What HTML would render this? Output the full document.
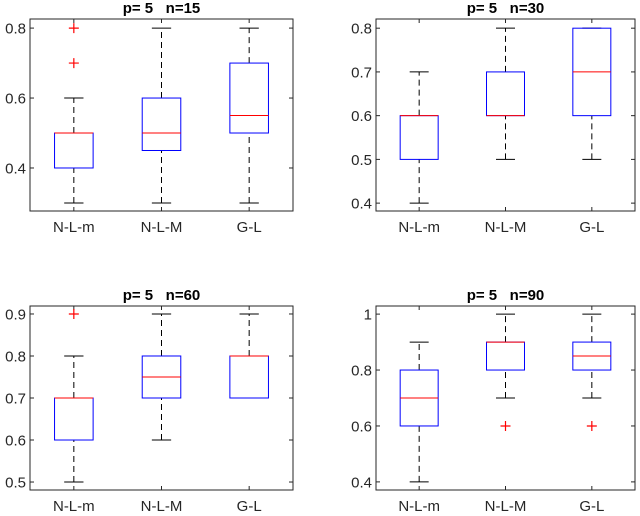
<!DOCTYPE html>
<html><head><meta charset="utf-8"><style>
body{margin:0;background:#fff}
svg{display:block;font-family:"Liberation Sans",Arial,sans-serif}
.ttl{white-space:pre}
</style></head><body>
<svg id="fig" width="640" height="516" viewBox="0 0 640 516"></svg>
<script>
const categories=["N-L-m","N-L-M","G-L"];
const titles=["p= 5   n=15","p= 5   n=30","p= 5   n=60","p= 5   n=90"];
// per panel, per category: [whiskerLow, q1, median, q3, whiskerHigh]
const stats15=[[0.3,0.4,0.5,0.5,0.6],[0.3,0.45,0.5,0.6,0.8],[0.3,0.5,0.55,0.7,0.8]];
const stats30=[[0.4,0.5,0.6,0.6,0.7],[0.5,0.6,0.6,0.7,0.8],[0.5,0.6,0.7,0.8,0.8]];
const stats60=[[0.5,0.6,0.7,0.7,0.8],[0.6,0.7,0.75,0.8,0.9],[0.7,0.7,0.8,0.8,0.9]];
const stats90=[[0.4,0.6,0.7,0.8,0.9],[0.7,0.8,0.9,0.9,1.0],[0.7,0.8,0.85,0.9,1.0]];
const outliers15=[[0.7,0.8],[],[]];
const outliers30=[[],[],[]];
const outliers60=[[0.9],[],[]];
const outliers90=[[],[0.6],[0.6]];
const ticks15=[0.4,0.6,0.8];
const ticks30=[0.4,0.5,0.6,0.7,0.8];
const ticks60=[0.5,0.6,0.7,0.8,0.9];
const ticks90=[0.4,0.6,0.8,1];
const tickLabels15=["0.4","0.6","0.8"];
const tickLabels30=["0.4","0.5","0.6","0.7","0.8"];
const tickLabels60=["0.5","0.6","0.7","0.8","0.9"];
const tickLabels90=["0.4","0.6","0.8","1"];

const panels=[
 {x0:30,x1:293,y0:19,y1:211,lo:0.277,hi:0.826,stats:stats15,out:outliers15,ticks:ticks15,tl:tickLabels15,title:titles[0]},
 {x0:376,x1:635,y0:19,y1:211,lo:0.382,hi:0.821,stats:stats30,out:outliers30,ticks:ticks30,tl:tickLabels30,title:titles[1]},
 {x0:30,x1:293,y0:306,y1:490,lo:0.481,hi:0.919,stats:stats60,out:outliers60,ticks:ticks60,tl:tickLabels60,title:titles[2]},
 {x0:376,x1:635,y0:306,y1:490,lo:0.371,hi:1.029,stats:stats90,out:outliers90,ticks:ticks90,tl:tickLabels90,title:titles[3]}
];
const NS="http://www.w3.org/2000/svg";
const svg=document.getElementById('fig');
function mk(tag,attrs,parent,text){const e=document.createElementNS(NS,tag);for(const k in attrs)e.setAttribute(k,attrs[k]);if(text!==undefined)e.textContent=text;parent.appendChild(e);return e;}
panels.forEach((p,pi)=>{
 const g=mk('g',{},svg);
 
 
 const ys=v=>p.y1-(v-p.lo)/(p.hi-p.lo)*(p.y1-p.y0);
 const xs=i=>p.x0+(i+0.5)*(p.x1-p.x0)/3;
 const hw=(p.x1-p.x0)/3*0.22;
 const frame=mk('rect',{x:p.x0,y:p.y0,width:p.x1-p.x0,height:p.y1-p.y0,fill:'none',stroke:'#262626','stroke-width':1},g);
 
 
 const t=mk('text',{class:'ttl',x:(p.x0+p.x1)/2,y:p.y0-6,'text-anchor':'middle','font-size':15,'font-weight':'bold',fill:'#000'},g,p.title);
 
 
 p.ticks.forEach((v,i)=>{
  const y=ys(v);
  mk('line',{x1:p.x0,x2:p.x0+4,y1:y,y2:y,stroke:'#262626'},g);
  mk('line',{x1:p.x1,x2:p.x1-4,y1:y,y2:y,stroke:'#262626'},g);
  const tl=mk('text',{x:p.x0-4,y:y+5.5,'text-anchor':'end','font-size':15,fill:'#262626'},g,p.tl[i]);
  
  
 });
 categories.forEach((c,i)=>{
  const x=xs(i);const s=p.stats[i];
  mk('line',{x1:x,x2:x,y1:p.y1,y2:p.y1-4,stroke:'#262626'},g);
  mk('line',{x1:x,x2:x,y1:p.y0,y2:p.y0+4,stroke:'#262626'},g);
  const xl=mk('text',{x:x,y:p.y1+21,'text-anchor':'middle','font-size':15,fill:'#262626'},g,c);
  
  
  const bg=mk('g',{},g);
  
  
  mk('line',{x1:x,x2:x,y1:ys(s[0]),y2:ys(s[1]),stroke:'#000','stroke-dasharray':'6,4'},bg);
  mk('line',{x1:x,x2:x,y1:ys(s[3]),y2:ys(s[4]),stroke:'#000','stroke-dasharray':'6,4'},bg);
  mk('line',{x1:x-hw/2,x2:x+hw/2,y1:ys(s[0]),y2:ys(s[0]),stroke:'#000'},bg);
  mk('line',{x1:x-hw/2,x2:x+hw/2,y1:ys(s[4]),y2:ys(s[4]),stroke:'#000'},bg);
  mk('rect',{x:x-hw,y:ys(s[3]),width:2*hw,height:ys(s[1])-ys(s[3]),fill:'none',stroke:'#0000ff'},bg);
  mk('line',{x1:x-hw,x2:x+hw,y1:ys(s[2]),y2:ys(s[2]),stroke:'#ff0000'},bg);
  p.out[i].forEach(v=>{
   const y=ys(v);
   const o=mk('path',{d:`M${x-5},${y}H${x+5}M${x},${y-5}V${y+5}`,stroke:'#ff0000','stroke-width':1.2,fill:'none'},bg);
   
   
  });
 });
});
</script>
</body></html>
